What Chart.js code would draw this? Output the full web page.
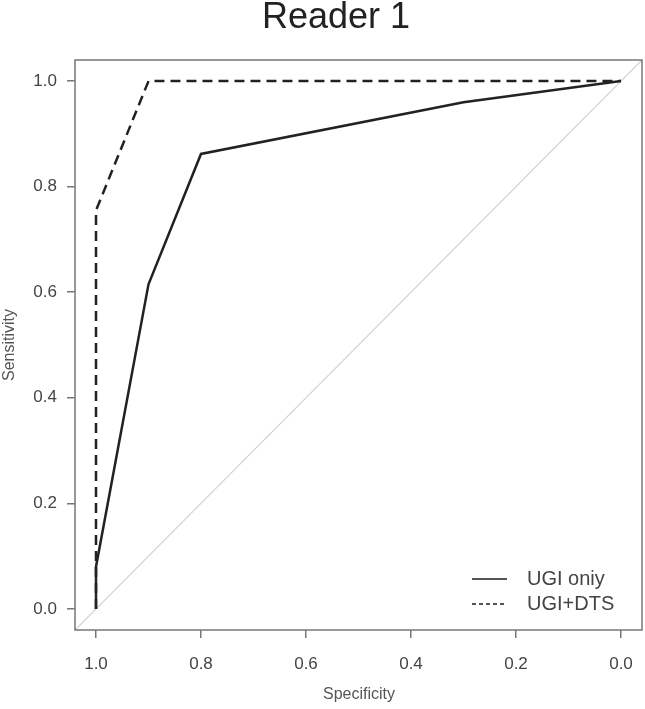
<!DOCTYPE html>
<html>
<head>
<meta charset="utf-8">
<script src="https://cdn.jsdelivr.net/npm/chart.js@4"></script>
<style>
  html, body { margin: 0; padding: 0; background: #fff; }
  #wrap { width: 645px; height: 709px; }
</style>
</head>
<body>
<div id="wrap"><canvas id="myChart" width="645" height="709"></canvas></div>
<script>
// ROC points (specificity, sensitivity)
const specUGI = [1.0, 1.0, 0.9, 0.8, 0.3, 0.0];
const sensUGI = [0.0, 0.08, 0.615, 0.862, 0.96, 1.0];
const specDTS = [1.0, 1.0, 0.9, 0.0];
const sensDTS = [0.0, 0.755, 1.0, 1.0];
const seriesNames = ['UGI oniy', 'UGI+DTS'];
const tickValues = [0, 0.2, 0.4, 0.6, 0.8, 1.0];
// chance line across the whole plot region
const refX = [1.04, -0.04];
const refY = [-0.04, 1.04];

const toPts = (xs, ys) => xs.map((x, i) => ({ x: x, y: ys[i] }));

const fontFam = '"Liberation Sans", Arial, sans-serif';

// title, axis titles, box and legend
const extras = {
  id: 'extras',
  afterDraw(chart) {
    const ctx = chart.ctx;
    const a = chart.chartArea;
    ctx.save();
    // box round the plot
    ctx.strokeStyle = '#777';
    ctx.lineWidth = 1.5;
    ctx.strokeRect(a.left, a.top, a.right - a.left, a.bottom - a.top);

    // main title
    ctx.fillStyle = '#222';
    ctx.font = '36px ' + fontFam;
    ctx.textAlign = 'center';
    ctx.textBaseline = 'alphabetic';
    ctx.fillText('Reader 1', 336, 28);

    // axis titles
    ctx.fillStyle = '#555';
    ctx.font = '16px ' + fontFam;
    ctx.textBaseline = 'middle';
    ctx.fillText('Specificity', 359, 695);
    ctx.translate(10, 345);
    ctx.rotate(-Math.PI / 2);
    ctx.fillText('Sensitivity', 0, 0);
    ctx.restore();

    // legend
    ctx.save();
    ctx.font = '20px ' + fontFam;
    ctx.textAlign = 'left';
    ctx.textBaseline = 'middle';
    const rows = [579, 604];
    const dashes = [[], [4, 3]];
    rows.forEach((y, i) => {
      ctx.strokeStyle = '#555';
      ctx.lineWidth = 2;
      ctx.setLineDash(dashes[i]);
      ctx.beginPath();
      ctx.moveTo(472, y);
      ctx.lineTo(507, y);
      ctx.stroke();
      ctx.fillStyle = '#444';
      ctx.fillText(seriesNames[i], 527, y);
    });
    ctx.restore();
  }
};

const tickFont = { family: fontFam, size: 17 };

const ctx = document.getElementById('myChart').getContext('2d');
new Chart(ctx, {
  type: 'scatter',
  data: {
    datasets: [
      {
        label: seriesNames[0],
        data: toPts(specUGI, sensUGI),
        showLine: true,
        borderColor: '#222',
        borderWidth: 2.5,
        pointRadius: 0,
        order: 1
      },
      {
        label: seriesNames[1],
        data: toPts(specDTS, sensDTS),
        showLine: true,
        borderColor: '#222',
        borderWidth: 2.5,
        borderDash: [10, 6],
        pointRadius: 0,
        order: 2
      },
      {
        label: 'ref',
        data: toPts(refX, refY),
        showLine: true,
        borderColor: '#cfcfcf',
        borderWidth: 1.2,
        pointRadius: 0,
        order: 3
      }
    ]
  },
  options: {
    responsive: false,
    animation: false,
    layout: { padding: { top: 60, right: 3, left: 0, bottom: 0 } },
    plugins: {
      legend: { display: false },
      title: { display: false },
      tooltip: { enabled: false }
    },
    scales: {
      x: {
        type: 'linear',
        reverse: true,
        min: -0.04,
        max: 1.04,
        afterBuildTicks: s => { s.ticks = tickValues.map(v => ({ value: v })); },
        afterFit: s => { s.height = 79; },
        border: { display: false },
        grid: { drawOnChartArea: false, drawTicks: true, tickLength: 8, color: '#777', lineWidth: 1.5 },
        ticks: {
          color: '#444',
          font: tickFont,
          padding: 16,
          maxRotation: 0,
          callback: v => Number(v).toFixed(1)
        }
      },
      y: {
        type: 'linear',
        min: -0.04,
        max: 1.04,
        afterBuildTicks: s => { s.ticks = tickValues.map(v => ({ value: v })); },
        afterFit: s => { s.width = 75; },
        border: { display: false },
        grid: { drawOnChartArea: false, drawTicks: true, tickLength: 8, color: '#777', lineWidth: 1.5 },
        ticks: {
          color: '#444',
          font: tickFont,
          padding: 10,
          callback: v => Number(v).toFixed(1)
        }
      }
    }
  },
  plugins: [extras]
});
</script>
</body>
</html>
